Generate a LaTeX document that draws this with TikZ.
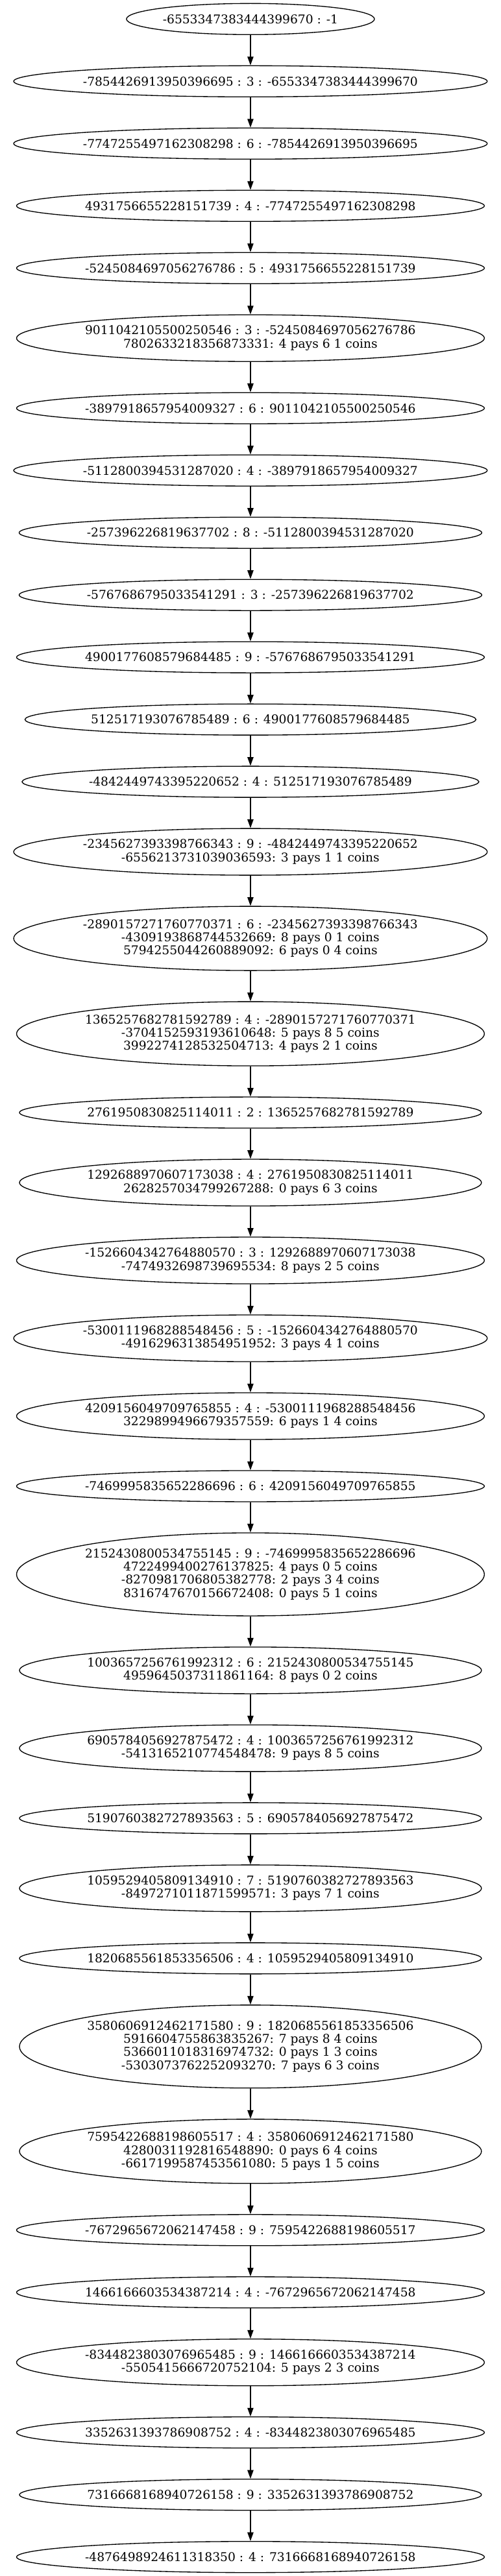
\documentclass[tikz,border=0pt]{standalone}
\usepackage{fontspec}
\setmainfont{DejaVu Serif}
\usetikzlibrary{shapes.geometric,arrows.meta}
\newcommand\gfont{\fontsize{14pt}{15.2pt}\selectfont}
\newsavebox\gbox
% #1 name, #2 centre y (pt from top), #3 height (pt), #4 width factor, #5 label
\newcommand\gnode[5]{%
  \sbox\gbox{\gfont\begin{tabular}{@{}c@{}}#5\end{tabular}}%
  \pgfmathsetmacro\gw{#4*(\the\wd\gbox+19.5pt)}%
  \node[gn, minimum width=\gw pt, minimum height=#3pt] (#1) at (289.5pt,-#2pt) {#5};%
}
\tikzset{
  gn/.style={ellipse, draw=black, line width=1pt, inner sep=0pt, font=\gfont, align=center, fill=white},
  edge/.style={draw=black, line width=1pt, -{Triangle[length=10pt,width=7pt]}}
}
\begin{document}
\begin{tikzpicture}
\useasboundingbox[fill=white] (0,0) rectangle (579pt,-2978.75pt);
\gnode{n1}{22}{36}{1.30}{-6553347383444399670 : -1}
\gnode{n2}{94}{36}{1.30}{-7854426913950396695 : 3 : -6553347383444399670}
\gnode{n3}{166}{36}{1.30}{-7747255497162308298 : 6 : -7854426913950396695}
\gnode{n4}{238}{36}{1.30}{4931756655228151739 : 4 : -7747255497162308298}
\gnode{n5}{310}{36}{1.30}{-5245084697056276786 : 5 : 4931756655228151739}
\gnode{n6}{391}{54}{1.414}{9011042105500250546 : 3 : -5245084697056276786\\7802633218356873331: 4 pays 6 1 coins}
\gnode{n7}{472}{36}{1.30}{-3897918657954009327 : 6 : 9011042105500250546}
\gnode{n8}{544}{36}{1.30}{-5112800394531287020 : 4 : -3897918657954009327}
\gnode{n9}{616}{36}{1.30}{-257396226819637702 : 8 : -5112800394531287020}
\gnode{n10}{688}{36}{1.30}{-5767686795033541291 : 3 : -257396226819637702}
\gnode{n11}{760}{36}{1.30}{4900177608579684485 : 9 : -5767686795033541291}
\gnode{n12}{832}{36}{1.30}{512517193076785489 : 6 : 4900177608579684485}
\gnode{n13}{904}{36}{1.30}{-4842449743395220652 : 4 : 512517193076785489}
\gnode{n14}{985}{54}{1.414}{-2345627393398766343 : 9 : -4842449743395220652\\-6556213731039036593: 3 pays 1 1 coins}
\gnode{n15}{1085.125}{74.25}{1.414}{-2890157271760770371 : 6 : -2345627393398766343\\-4309193868744532669: 8 pays 0 1 coins\\5794255044260889092: 6 pays 0 4 coins}
\gnode{n16}{1195.375}{74.25}{1.414}{1365257682781592789 : 4 : -2890157271760770371\\-3704152593193610648: 5 pays 8 5 coins\\3992274128532504713: 4 pays 2 1 coins}
\gnode{n17}{1286.5}{36}{1.30}{2761950830825114011 : 2 : 1365257682781592789}
\gnode{n18}{1367.5}{54}{1.414}{1292688970607173038 : 4 : 2761950830825114011\\2628257034799267288: 0 pays 6 3 coins}
\gnode{n19}{1457.5}{54}{1.414}{-1526604342764880570 : 3 : 1292688970607173038\\-7474932698739695534: 8 pays 2 5 coins}
\gnode{n20}{1547.5}{54}{1.414}{-5300111968288548456 : 5 : -1526604342764880570\\-4916296313854951952: 3 pays 4 1 coins}
\gnode{n21}{1637.5}{54}{1.414}{4209156049709765855 : 4 : -5300111968288548456\\3229899496679357559: 6 pays 1 4 coins}
\gnode{n22}{1718.5}{36}{1.30}{-7469995835652286696 : 6 : 4209156049709765855}
\gnode{n23}{1820.5}{96}{1.414}{2152430800534755145 : 9 : -7469995835652286696\\4722499400276137825: 4 pays 0 5 coins\\-8270981706805382778: 2 pays 3 4 coins\\8316747670156672408: 0 pays 5 1 coins}
\gnode{n24}{1931.5}{54}{1.414}{1003657256761992312 : 6 : 2152430800534755145\\4959645037311861164: 8 pays 0 2 coins}
\gnode{n25}{2021.5}{54}{1.414}{6905784056927875472 : 4 : 1003657256761992312\\-5413165210774548478: 9 pays 8 5 coins}
\gnode{n26}{2102.5}{36}{1.30}{5190760382727893563 : 5 : 6905784056927875472}
\gnode{n27}{2183.5}{54}{1.414}{1059529405809134910 : 7 : 5190760382727893563\\-8497271011871599571: 3 pays 7 1 coins}
\gnode{n28}{2264.5}{36}{1.30}{1820685561853356506 : 4 : 1059529405809134910}
\gnode{n29}{2366.5}{96}{1.414}{3580606912462171580 : 9 : 1820685561853356506\\5916604755863835267: 7 pays 8 4 coins\\5366011018316974732: 0 pays 1 3 coins\\-5303073762252093270: 7 pays 6 3 coins}
\gnode{n30}{2487.625}{74.25}{1.414}{7595422688198605517 : 4 : 3580606912462171580\\4280031192816548890: 0 pays 6 4 coins\\-6617199587453561080: 5 pays 1 5 coins}
\gnode{n31}{2578.75}{36}{1.30}{-7672965672062147458 : 9 : 7595422688198605517}
\gnode{n32}{2650.75}{36}{1.30}{1466166603534387214 : 4 : -7672965672062147458}
\gnode{n33}{2731.75}{54}{1.414}{-8344823803076965485 : 9 : 1466166603534387214\\-5505415666720752104: 5 pays 2 3 coins}
\gnode{n34}{2812.75}{36}{1.30}{3352631393786908752 : 4 : -8344823803076965485}
\gnode{n35}{2884.75}{36}{1.30}{7316668168940726158 : 9 : 3352631393786908752}
\gnode{n36}{2956.75}{36}{1.30}{-4876498924611318350 : 4 : 7316668168940726158}
\foreach \a/\b in {1/2,2/3,3/4,4/5,5/6,6/7,7/8,8/9,9/10,10/11,11/12,12/13,13/14,14/15,15/16,16/17,17/18,18/19,19/20,20/21,21/22,22/23,23/24,24/25,25/26,26/27,27/28,28/29,29/30,30/31,31/32,32/33,33/34,34/35,35/36}
  \draw[edge] (n\a) -- (n\b);
\end{tikzpicture}
\end{document}
